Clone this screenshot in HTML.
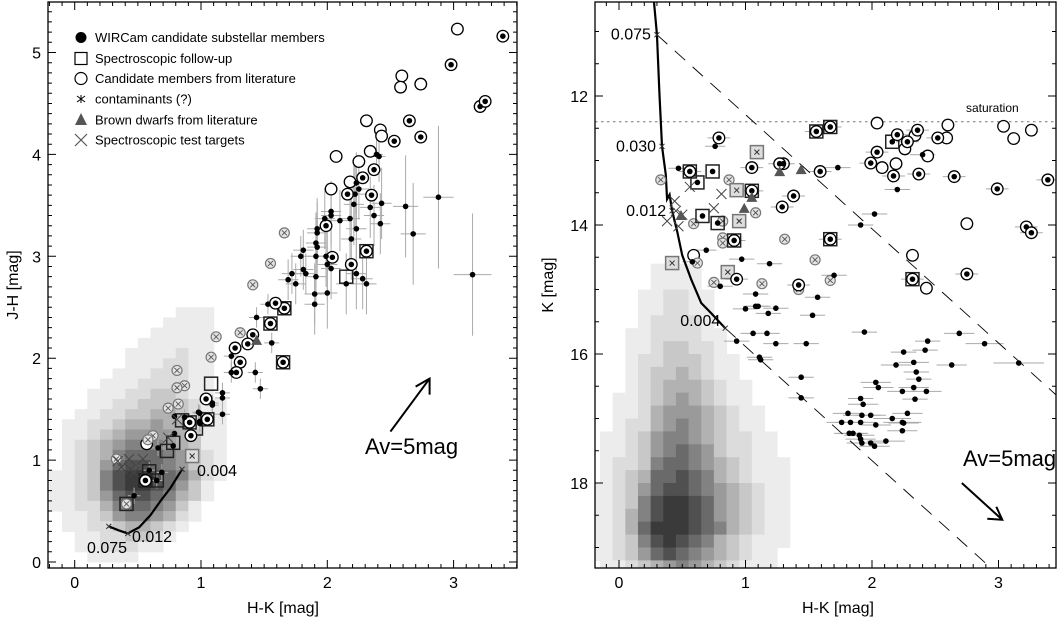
<!DOCTYPE html>
<html><head><meta charset="utf-8"><style>
html,body{margin:0;padding:0;background:#fff;}
svg{display:block;font-family:"Liberation Sans",sans-serif;}
</style></head><body>
<svg id="fig" width="1059" height="621" viewBox="0 0 1059 621" xmlns="http://www.w3.org/2000/svg">
<defs>
<clipPath id="clipL"><rect x="48" y="2" width="469" height="566"/></clipPath>
<clipPath id="clipR"><rect x="595" y="2" width="461" height="566"/></clipPath>
</defs>
</svg>
<script>
// ---------- LEFT PANEL DATA (H-K, J-H) ----------
const leftDensityHK0 = -0.2, leftDensityStep = [0.1, 0.1];
const leftDensityRows = [ // top row jh 2.4 -> bottom jh 0.0
"00000000001110","00000000011110","00000000111110","00000001111110","00000011112110",
"00000011122110","00000111222110","00001112222110","00011122332110","00011223333211",
"00112233443211","01122344544211","01123455554311","01234566654311","01234677765321",
"01235788765321","11236899876421","11236899875310","11235788764310","11224677653100",
"01123566542100","01122344321000","00112233210000","00112221100000","00011110000000"];
const leftDots = [[2.41,3.98,.05,.25],[2.39,4.0,.05,.2],[2.23,3.72,.08,.3],[2.25,3.66,.08,.3],[2.22,3.61,.08,.35],[2.21,3.51,.08,.4],[2.43,3.52,.08,.35],[2.34,3.48,.08,.3],[2.37,3.40,.08,.3],[2.42,3.32,.08,.3],[2.23,3.27,.08,.4],[2.18,3.37,.08,.4],[2.10,3.35,.08,.3],[2.19,3.17,.08,.4],[2.03,3.44,.08,.3],[2.03,3.40,.08,.3],[1.98,3.37,.08,.3],[1.92,3.27,.08,.3],[1.92,3.23,.08,.3],[1.91,3.13,.08,.3],[1.92,3.09,.08,.3],[1.91,3.00,.08,.3],[1.99,3.00,.08,.3],[2.00,2.92,.08,.35],[2.03,2.88,.08,.3],[2.23,2.83,.08,.35],[2.15,2.73,.08,.3],[2.28,2.78,.08,.3],[2.31,2.73,.08,.3],[1.91,2.80,.08,.3],[2.00,2.64,.08,.35],[1.90,2.63,.08,.3],[1.90,2.53,.08,.3],[1.81,3.06,.08,.2],[1.79,3.0,.08,.2],[1.72,2.83,.08,.2],[1.75,2.73,.08,.2],[1.83,2.83,.08,.2],[1.69,2.77,.08,.2],[1.81,2.87,.08,.2],[1.53,2.53,.06,.1],[1.56,2.15,.06,.1],[1.44,2.40,.06,.1],[1.43,1.86,.06,.1],[1.47,1.70,.06,.1],[1.24,2.02,.06,.1],[1.24,1.86,.06,.1],[1.17,1.66,.06,.1],[1.17,1.61,.06,.1],[1.17,1.45,.06,.1],[1.09,1.56,.05,.08],[1.09,1.54,.05,.08],[0.99,1.46,.05,.08],[0.98,1.47,.05,.08],[0.99,1.38,.05,.08],[0.99,1.36,.05,.08],[0.79,1.43,.05,.08],[0.87,1.42,.05,.08],[0.79,1.26,.05,.08],[0.78,1.14,.05,.08],[0.66,1.12,.05,.08],[0.69,0.88,.05,.08],[0.65,0.80,.05,.08],[0.59,0.90,.05,.08],[0.47,0.65,.05,.08],[2.88,3.58,.12,.7],[2.62,3.49,.1,.5],[2.68,3.22,.1,.5],[3.15,2.82,.15,.6]];
const leftCircleDots = [[3.39,5.16],[2.98,4.88],[3.21,4.47],[3.25,4.52],[2.65,4.33],[2.53,4.13],[2.74,4.17],[2.37,3.85],[2.28,3.77],[2.16,3.61],[2.35,3.60],[1.99,3.30],[2.04,2.99],[2.19,2.92],[2.31,3.05],[1.55,2.34],[1.66,2.49],[1.59,2.54],[1.65,1.96],[1.27,2.10],[1.31,1.96],[1.28,1.86],[1.41,2.23],[1.37,2.14],[1.04,1.60],[0.91,1.37],[1.05,1.40],[0.92,1.24],[0.56,0.80]];
const leftCircleX = [[1.66,3.23],[1.55,2.93],[1.41,2.72],[1.31,2.25],[1.12,2.21],[1.08,2.01],[0.81,1.88],[0.87,1.73],[0.81,1.71],[0.82,1.55],[0.74,1.51],[0.62,1.24],[0.58,1.20],[0.33,1.01],[0.41,0.57]];
const leftOpen = [[3.03,5.23],[2.59,4.77],[2.58,4.66],[2.74,4.69],[2.31,4.33],[2.42,4.24],[2.43,4.18],[2.34,4.03],[2.07,3.98],[2.25,3.93],[2.03,3.66],[2.18,3.73],[0.57,1.16]];
const leftBoxes = [[2.31,3.05],[1.55,2.34],[1.66,2.49],[1.65,1.96],[0.91,1.37],[1.05,1.40],[0.56,0.80],[0.65,0.80],[2.15,2.80],[1.08,1.75],[0.85,1.39],[0.78,1.17],[0.73,1.09],[0.96,1.31],[0.59,0.89],[0.41,0.57]];
const leftGrayBoxX = [[0.93,1.04]];
const leftBigX = [[0.34,0.99],[0.43,1.01],[0.37,0.93],[0.47,0.88],[0.54,1.01],[0.74,1.22],[0.81,1.40],[0.44,0.91]];
const leftTriangles = [[1.44,2.17]];
const leftIsoHK = [0.85,0.76,0.68,0.60,0.51,0.42,0.35,0.27];
const leftIsoJH = [0.91,0.73,0.60,0.46,0.34,0.28,0.31,0.35];
const leftIsoMarks = [[0.85,0.91,"0.004"],[0.42,0.28,"0.012"],[0.27,0.35,"0.075"]];
const leftXTicks = [0,1,2,3], leftYTicks = [0,1,2,3,4,5];

// ---------- RIGHT PANEL DATA (H-K, K) ----------
const rightDensityHK0 = -0.25, rightDensityK0 = 14.6;
const rightDensityRows = [
"0000011110000000","0000011110000000","0000112211000000","0000112211000000","0000122221000000",
"0001122221100000","0001123322100000","0001223332110000","0001233432110000","0001234443211000",
"0011234543211000","0011245554321100","0012245654321100","0112356654322110","0112356765322110",
"0122367765432111","0123477876432111","1123578876543211","1123689987543211","1124689987543211",
"1124799987643211","1123689876432111","1123578765432110","0112345654321110"];
const rightDots = [[0.47,13.12,.08],[0.76,12.78,.08],[1.73,13.11,.1],[2.20,13.45,.1],[2.40,12.91,.1],[2.02,13.83,.1],[1.91,14.0,.1],[0.69,14.39,.08],[0.58,14.57,.08],[0.97,14.53,.1],[1.19,14.6,.1],[1.70,14.78,.1],[0.80,14.95,.1],[1.08,15.07,.1],[1.57,15.12,.1],[1.08,15.26,.1],[1.10,15.26,.1],[1.0,15.3,.1],[1.24,15.29,.1],[1.18,15.37,.1],[1.53,15.40,.1],[0.93,15.80,.1],[1.06,15.68,.1],[1.17,15.68,.1],[1.24,15.84,.1],[1.48,15.84,.1],[1.11,16.05,.1],[1.12,16.09,.1],[1.44,16.36,.1],[1.44,16.68,.1],[1.94,15.66,.1],[2.69,15.68,.12],[2.89,15.84,.15],[2.63,16.17,.12],[3.16,16.14,.2],[2.44,15.80,.1],[2.42,15.94,.1],[2.25,15.97,.1],[2.19,16.17,.12],[2.33,16.13,.12],[2.35,16.28,.1],[2.37,16.39,.1],[2.03,16.44,.12],[2.05,16.52,.12],[2.33,16.52,.12],[2.43,16.58,.12],[2.24,16.58,.12],[2.34,16.70,.1],[1.91,16.69,.1],[1.93,16.78,.12],[1.81,16.92,.12],[1.92,16.95,.15],[1.99,16.95,.12],[2.28,16.92,.12],[2.16,17.0,.15],[2.24,17.06,.15],[2.25,17.07,.12],[2.03,17.1,.12],[1.91,17.06,.12],[1.76,17.06,.12],[1.83,17.06,.12],[2.24,17.19,.12],[1.82,17.23,.12],[1.85,17.23,.12],[1.90,17.26,.12],[1.91,17.32,.12],[2.11,17.35,.15],[1.92,17.38,.12],[1.99,17.38,.12],[2.02,17.43,.12]];
const rightCircleDots = [[0.79,12.65],[1.30,13.05],[1.05,13.47],[1.38,13.55],[1.29,13.72],[0.91,14.24],[1.67,14.22],[1.42,14.93],[0.93,14.84],[1.59,13.17],[1.05,13.11],[1.56,12.55],[1.67,12.48],[2.32,14.84],[2.20,12.6],[2.28,12.71],[2.36,12.53],[2.52,12.65],[2.04,12.87],[1.99,13.04],[2.17,13.24],[2.37,13.21],[2.65,13.25],[2.99,13.44],[3.39,13.30],[3.22,14.03],[3.26,14.12],[2.75,14.76],[0.56,13.17],[1.27,13.05]];
const rightBoxDots = [[2.16,12.71],[0.74,13.17],[0.62,13.34],[0.66,13.86],[0.78,13.97]];
const rightBoxes = [[1.05,13.47],[0.91,14.24],[1.67,14.22],[1.56,12.55],[1.67,12.48],[2.32,14.84],[0.56,13.17],[2.16,12.71],[0.74,13.17],[0.62,13.34],[0.66,13.86],[0.78,13.97]];
const rightGrayBoxX = [[1.09,12.87],[0.93,13.46],[0.95,13.94],[0.86,14.73],[0.42,14.59]];
const rightCircleX = [[0.33,13.30],[0.87,13.30],[1.08,13.81],[0.82,13.94],[0.82,14.2],[0.82,14.28],[0.59,13.98],[0.62,14.59],[0.75,14.89],[1.13,14.91],[1.31,14.22],[1.55,14.54],[1.67,14.86],[1.42,15.0],[0.42,14.59]];
const rightOpen = [[2.04,12.42],[2.60,12.45],[2.59,12.65],[2.26,12.82],[2.34,12.61],[2.19,13.05],[2.08,13.11],[2.44,12.93],[3.04,12.47],[3.12,12.66],[3.26,12.53],[2.75,13.98],[2.32,14.47],[2.43,14.98],[0.59,14.47]];
const rightTriangles = [[1.27,13.18],[1.44,13.15],[0.99,13.75],[1.05,13.58],[0.49,13.86]];
const rightBigX = [[0.56,13.41],[0.81,13.52],[0.75,13.74],[0.44,13.63],[0.45,13.78],[0.38,13.94],[0.47,14.02],[0.50,13.84]];
const rightIsoHK = [0.27,0.30,0.32,0.34,0.37,0.38,0.40,0.42,0.46,0.50,0.57,0.65,0.73,0.84];
const rightIsoK  = [10.4,11.05,11.98,12.78,13.22,13.6,13.53,13.78,14.1,14.47,14.84,15.21,15.37,15.6];
const rightIsoMarks = [[0.30,11.05,"0.075"],[0.34,12.78,"0.030"],[0.42,13.78,"0.012"],[0.84,15.6,"0.004"]];
const reddeningLinesStart = [[0.30,11.05],[0.84,15.6]];
const reddeningSlope = 1.77;
const saturationK = 12.4;
const rightXTicks = [0,1,2,3], rightYTicks = [12,14,16,18];

// ---------- AXES ----------
const LX = v => 74.7 + 126.3*v, LY = v => 562 - 101.9*v;
const RX = v => 619 + 126.5*v, RY = v => 96 + 64.5*(v-12);
const svg = document.getElementById('fig');
const NS = 'http://www.w3.org/2000/svg';
function mk(tag, attrs, parent){const e=document.createElementNS(NS,tag);for(const k in attrs)e.setAttribute(k,attrs[k]);(parent||svg).appendChild(e);return e;}
const grays = ['#fff','#ececec','#dcdcdc','#c8c8c8','#b2b2b2','#9a9a9a','#828282','#6a6a6a','#505050','#3a3a3a'];

function density(rows, x0, dx, yTop, dy, X, Y, g, name){
  rows.forEach((r,i)=>{for(let j=0;j<r.length;j++){const lv=+r[j]; if(!lv) continue;
    const xa=X(x0+j*dx), xb=X(x0+(j+1)*dx), ya=Y(yTop(i)), yb=Y(yTop(i)+dy);
    const c=mk('rect',{x:Math.min(xa,xb),y:Math.min(ya,yb),width:Math.abs(xb-xa)+0.5,height:Math.abs(yb-ya)+0.5,fill:grays[lv]},g);
    
    
  }});
}
function grp(name, parent){const g=mk('g',{},parent);return g;}

function drawDot(g,x,y,name){const e=mk('circle',{cx:x,cy:y,r:2.8,fill:'#000'},g);}
function drawRing(g,x,y,name){const e=mk('circle',{cx:x,cy:y,r:5.8,fill:'#fff',stroke:'#000','stroke-width':1.3},g);}
function drawCircleX(g,x,y,name){const e=mk('circle',{cx:x,cy:y,r:5,fill:'#e4e4e4',stroke:'#777','stroke-width':1.2},g);
  mk('path',{d:`M${x-2.5},${y-2.5}L${x+2.5},${y+2.5}M${x-2.5},${y+2.5}L${x+2.5},${y-2.5}`,stroke:'#555','stroke-width':0.9},g);}
function drawBox(g,x,y,name,gray){const e=mk('rect',{x:x-6.5,y:y-6.5,width:13,height:13,fill:gray?'#ddd':'none',stroke:gray?'#777':'#222','stroke-width':1.5},g);}
function drawBigX(g,x,y,name){const e=mk('path',{d:`M${x-5},${y-5}L${x+5},${y+5}M${x-5},${y+5}L${x+5},${y-5}`,stroke:'#444','stroke-width':1},g);}
function drawSmallX(g,x,y){mk('path',{d:`M${x-2.5},${y-2.5}L${x+2.5},${y+2.5}M${x-2.5},${y+2.5}L${x+2.5},${y-2.5}`,stroke:'#333','stroke-width':1},g);}
function drawTri(g,x,y,name){const e=mk('path',{d:`M${x},${y-6}L${x+5.5},${y+4}L${x-5.5},${y+4}Z`,fill:'#555'},g);}

function axes(g, X, Y, box, xt, xMinor, yt, yMinor, yMinorStep, xMinorStep){
  const [x0,y0,x1,y1]=box;
  const r=mk('rect',{x:x0,y:y0,width:x1-x0,height:y1-y0,fill:'none',stroke:'#000','stroke-width':1.3},g);
  
  let d='';
  for(let v=xMinor[0]; v<=xMinor[1]+1e-9; v+=xMinorStep){const x=X(v); if(x<x0||x>x1) continue; const maj=Math.abs(v-Math.round(v))<1e-6; const L=maj?8:4; d+=`M${x},${y1}v${-L}M${x},${y0}v${L}`;}
  for(let v=yMinor[0]; v<=yMinor[1]+1e-9; v+=yMinorStep){const y=Y(v); if(y<y0||y>y1) continue; const maj=yt.some(t=>Math.abs(t-v)<1e-6); const L=maj?8:4; d+=`M${x0},${y}h${L}M${x1},${y}h${-L}`;}
  mk('path',{d,stroke:'#000','stroke-width':1},g);
  xt.forEach(v=>{const t=mk('text',{x:X(v),y:y1+20,'font-size':16,'text-anchor':'middle'},g);t.textContent=v;});
  yt.forEach(v=>{const t=mk('text',{x:x0-7,y:Y(v)+6,'font-size':16,'text-anchor':'end'},g);t.textContent=v;});
}

// ===== LEFT PANEL =====
const gl = grp('left-panel-color-color');
const glc = grp('left-plot-area', gl); glc.setAttribute('clip-path','url(#clipL)');
const ld = grp('left-density-map', glc);
density(leftDensityRows, leftDensityHK0, leftDensityStep[0], i=>2.4-i*0.1+0.1, -0.1, LX, LY, ld, 'density-cell');
const le = grp('left-error-bars', glc);
leftDots.forEach(p=>{mk('path',{d:`M${LX(p[0]-p[2])},${LY(p[1])}H${LX(p[0]+p[2])}M${LX(p[0])},${LY(p[1]-p[3])}V${LY(p[1]+p[3])}`,stroke:'#aaa','stroke-width':1},le);});
const liso = mk('path',{d:leftIsoHK.map((h,i)=>(i?'L':'M')+LX(h)+','+LY(leftIsoJH[i])).join(''),fill:'none',stroke:'#000','stroke-width':2.2},glc);

leftIsoMarks.forEach(m=>drawSmallX(glc,LX(m[0]),LY(m[1])));
const lm = grp('left-markers', glc);
leftOpen.forEach(p=>drawRing(lm,LX(p[0]),LY(p[1]),'literature-candidate'));
leftCircleX.forEach(p=>drawCircleX(lm,LX(p[0]),LY(p[1]),'contaminant-literature'));
leftBoxes.forEach(p=>drawBox(lm,LX(p[0]),LY(p[1]),'spectroscopic-box'));
leftGrayBoxX.forEach(p=>{drawBox(lm,LX(p[0]),LY(p[1]),'spectroscopic-box-contaminant',true);drawSmallX(lm,LX(p[0]),LY(p[1]));});
leftCircleDots.forEach(p=>drawRing(lm,LX(p[0]),LY(p[1]),'candidate-literature-ring'));
leftCircleDots.forEach(p=>drawDot(lm,LX(p[0]),LY(p[1]),'candidate-dot'));
leftDots.forEach(p=>drawDot(lm,LX(p[0]),LY(p[1]),'wircam-candidate'));
leftBigX.forEach(p=>drawBigX(lm,LX(p[0]),LY(p[1]),'test-target'));
leftTriangles.forEach(p=>drawTri(lm,LX(p[0]),LY(p[1]),'brown-dwarf'));
[[197,476,"0.004"],[132,542,"0.012"],[87,553,"0.075"]].forEach(l=>{const t=mk('text',{x:l[0],y:l[1],'font-size':16},gl);t.textContent=l[2];});
{const a=mk('path',{d:`M${LX(2.50)},${LY(1.28)}L${LX(2.81)},${LY(1.80)}M${LX(2.81)-14},${LY(1.80)+8}L${LX(2.81)},${LY(1.80)}L${LX(2.81)},${LY(1.80)+16}`,fill:'none',stroke:'#000','stroke-width':2},gl);

const t=mk('text',{x:365,y:454,'font-size':22},gl);t.textContent='Av=5mag';}
axes(gl, LX, LY, [48,2,517,568], leftXTicks, [-0.2,3.5], leftYTicks, [0,5.5], 0.1, 0.1);
{const t=mk('text',{x:283,y:613,'font-size':16,'text-anchor':'middle'},gl);t.textContent='H-K [mag]';
const t2=mk('text',{x:0,y:0,'font-size':16,'text-anchor':'middle',transform:'translate(18,285) rotate(-90)'},gl);t2.textContent='J-H [mag]';}
const lg = grp('legend', gl);
const legendLabels = ['WIRCam candidate substellar members','Spectroscopic follow-up','Candidate members from literature','contaminants (?)','Brown dwarfs from literature','Spectroscopic test targets'];
const legendY = [37.5,58.5,78.5,99,120,140];
mk('circle',{cx:81,cy:legendY[0],r:5.5,fill:'#000'},lg);
mk('rect',{x:75,y:legendY[1]-6,width:12,height:12,fill:'none',stroke:'#000','stroke-width':1.2},lg);
mk('circle',{cx:81,cy:legendY[2],r:6,fill:'none',stroke:'#000','stroke-width':1.2},lg);
mk('path',{d:`M77,${legendY[3]-3}L85,${legendY[3]+3}M77,${legendY[3]+3}L85,${legendY[3]-3}M81,${legendY[3]-4}V${legendY[3]+4}`,stroke:'#000','stroke-width':1},lg);
mk('path',{d:`M81,${legendY[4]-7}L87,${legendY[4]+5}L75,${legendY[4]+5}Z`,fill:'#555'},lg);
mk('path',{d:`M75,${legendY[5]-6}L87,${legendY[5]+6}M75,${legendY[5]+6}L87,${legendY[5]-6}`,stroke:'#555','stroke-width':1.2},lg);
legendLabels.forEach((s,i)=>{const t=mk('text',{x:95,y:legendY[i]+4.5,'font-size':13},lg);t.textContent=s;});

// ===== RIGHT PANEL =====
const gr = grp('right-panel-color-magnitude');
const grc = grp('right-plot-area', gr); grc.setAttribute('clip-path','url(#clipR)');
const rd = grp('right-density-map', grc);
density(rightDensityRows, rightDensityHK0, 0.1, i=>rightDensityK0+i*0.2, 0.2, RX, RY, rd, 'density-cell');
const re = grp('right-error-bars', grc);
rightDots.forEach(p=>{mk('path',{d:`M${RX(p[0]-p[2])},${RY(p[1])}H${RX(p[0]+p[2])}`,stroke:'#aaa','stroke-width':1},re);});
rightCircleDots.forEach(p=>{mk('path',{d:`M${RX(p[0]-0.09)},${RY(p[1])}H${RX(p[0]+0.09)}`,stroke:'#aaa','stroke-width':1},re);});
{const s=mk('path',{d:`M595,${RY(saturationK)}H1056`,stroke:'#777','stroke-width':1,'stroke-dasharray':'2.5,3.5'},grc);
const t=mk('text',{x:966,y:112,'font-size':12},gr);t.textContent='saturation';}
reddeningLinesStart.forEach(p=>{const x2=3.5, k2=p[1]+(x2-p[0])*reddeningSlope;
  const l=mk('path',{d:`M${RX(p[0])},${RY(p[1])}L${RX(x2)},${RY(k2)}`,stroke:'#000','stroke-width':0.9,'stroke-dasharray':'14,10'},grc);
  });
const riso = mk('path',{d:rightIsoHK.map((h,i)=>(i?'L':'M')+RX(h)+','+RY(rightIsoK[i])).join(''),fill:'none',stroke:'#000','stroke-width':2.2},grc);

rightIsoMarks.forEach(m=>drawSmallX(grc,RX(m[0]),RY(m[1])));
rightIsoMarks.forEach((m,i)=>{const dx = i==3? -5 : -6; const dy = i==3? -2:5;
  const t=mk('text',{x:RX(m[0])+dx,y:RY(m[1])+dy,'font-size':16,'text-anchor':'end'},gr);t.textContent=m[2];});
const rm = grp('right-markers', grc);
rightOpen.forEach(p=>drawRing(rm,RX(p[0]),RY(p[1]),'literature-candidate'));
rightCircleX.forEach(p=>drawCircleX(rm,RX(p[0]),RY(p[1]),'contaminant-literature'));
rightBoxes.forEach(p=>drawBox(rm,RX(p[0]),RY(p[1]),'spectroscopic-box'));
rightGrayBoxX.forEach(p=>{drawBox(rm,RX(p[0]),RY(p[1]),'spectroscopic-box-contaminant',true);drawSmallX(rm,RX(p[0]),RY(p[1]));});
rightCircleDots.forEach(p=>drawRing(rm,RX(p[0]),RY(p[1]),'candidate-literature-ring'));
rightCircleDots.forEach(p=>drawDot(rm,RX(p[0]),RY(p[1]),'candidate-dot'));
rightBoxDots.forEach(p=>drawDot(rm,RX(p[0]),RY(p[1]),'candidate-dot'));
rightDots.forEach(p=>drawDot(rm,RX(p[0]),RY(p[1]),'wircam-candidate'));
rightBigX.forEach(p=>drawBigX(rm,RX(p[0]),RY(p[1]),'test-target'));
rightTriangles.forEach(p=>drawTri(rm,RX(p[0]),RY(p[1]),'brown-dwarf'));
{const x1=RX(2.71),y1=RY(18.0),x2=RX(3.03),y2=RY(18.57);
const a=mk('path',{d:`M${x1},${y1}L${x2},${y2}M${x2-15},${y2-1}L${x2},${y2}L${x2-6},${y2-13}`,fill:'none',stroke:'#000','stroke-width':2},gr);

const t=mk('text',{x:963,y:466,'font-size':22},gr);t.textContent='Av=5mag';}
axes(gr, RX, RY, [595,2,1056,568], rightXTicks, [-0.2,3.5], rightYTicks, [10.5,19.5], 0.5, 0.1);
{const t=mk('text',{x:838,y:613,'font-size':16,'text-anchor':'middle'},gr);t.textContent='H-K [mag]';
const t2=mk('text',{x:0,y:0,'font-size':16,'text-anchor':'middle',transform:'translate(553,285) rotate(-90)'},gr);t2.textContent='K [mag]';}
</script>
</body></html>
